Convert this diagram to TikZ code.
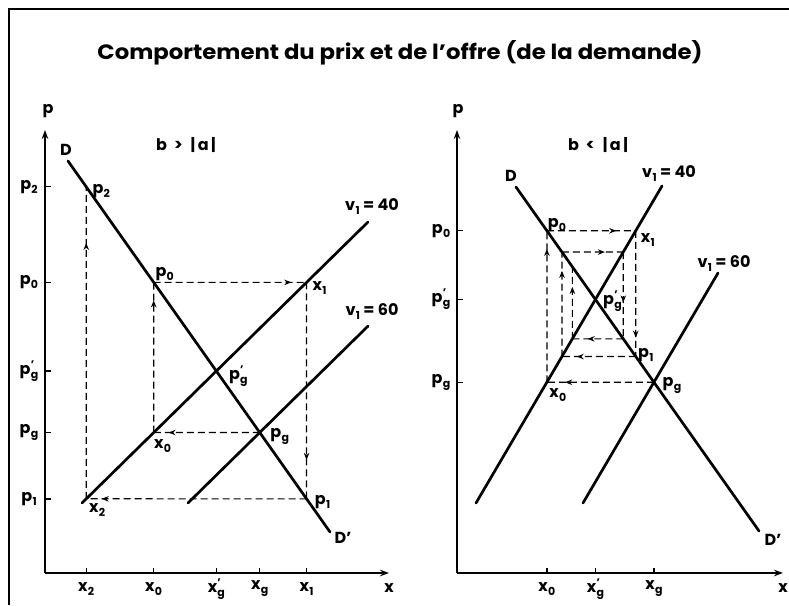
\documentclass[tikz,border=0pt]{standalone}
\usepackage{fontspec}
\usepackage{graphicx}
\setmainfont{Poppins}
\usetikzlibrary{arrows.meta,decorations.markings}
\newcommand\subf{\fontsize{11}{11}\selectfont}
\newcommand\sbs[2]{#1\kern0.3pt\raisebox{-4pt}{\subf #2}}
\newcommand\sbp[2]{#1\kern0.3pt\rlap{\raisebox{6pt}{\subf '}}\raisebox{-4pt}{\subf #2}}
\newcommand\condtxt[1]{b\hspace{7pt}#1\hspace{8pt}|\kern2.5pt a\kern2.5pt|}
\tikzset{
  lbl/.style={font=\fontsize{16}{16}\selectfont\bfseries, inner sep=0pt},
  curve/.style={line width=2.7pt, line cap=round},
  axisline/.style={line width=1.6pt, -{Stealth[length=9pt,width=6.5pt]}},
  tickline/.style={line width=1.3pt},
  cob/.style={line width=1.2pt, dash pattern=on 7pt off 4pt,
    postaction={decorate},
    decoration={markings, mark=at position #1 with {\arrow{Stealth[length=7pt,width=5.5pt]}}}},
  border/.style={line width=1.4pt}
}
\begin{document}
\begin{tikzpicture}[x=1pt,y=-1pt]
\useasboundingbox (0,0) rectangle (789,605);
% frame
\coordinate (F1) at (9,605);
\coordinate (F2) at (9,9);
\coordinate (F3) at (789,9);
\draw[border] (F1) -- (F2) -- (F3);
% title
\node[inner sep=0pt, anchor=base] (title) at (400,59) {\resizebox{605pt}{19pt}{\bfseries Comportement du prix et de l'offre (de la demande)}};

% ================= LEFT CHART =================
\coordinate (LO) at (45,573);
\coordinate (LYt) at (45,130);
\coordinate (LXr) at (389,573);
\coordinate (LDa) at (68,161);  \coordinate (LDb) at (330,532);
\coordinate (LAa) at (82,503);  \coordinate (LAb) at (368,222);
\coordinate (LBa) at (188,503); \coordinate (LBb) at (368,326.1);

\coordinate (Lpg) at (intersection of LDa--LDb and LBa--LBb);
\coordinate (Lpgp) at (intersection of LDa--LDb and LAa--LAb);
\coordinate (LpgH) at (Lpg -| LO);
\coordinate (Lx0) at (intersection of LAa--LAb and Lpg--LpgH);
\coordinate (Lx0V) at (Lx0 |- LO);
\coordinate (Lp0) at (intersection of LDa--LDb and Lx0--Lx0V);
\coordinate (Lp0H) at (Lp0 -| LO);
\coordinate (Lx1) at (intersection of LAa--LAb and Lp0--Lp0H);
\coordinate (Lx1V) at (Lx1 |- LO);
\coordinate (Lp1) at (intersection of LDa--LDb and Lx1--Lx1V);
\coordinate (Lp1H) at (Lp1 -| LO);
\coordinate (Lx2) at (intersection of LAa--LAb and Lp1--Lp1H);
\coordinate (Lx2V) at (Lx2 |- LO);
\coordinate (Lp2) at (intersection of LDa--LDb and Lx2--Lx2V);

% dashed cobweb
\draw[cob=0.86] (Lpg) -- (Lx0);
\draw[cob=0.88] (Lx0) -- (Lp0);
\draw[cob=0.9] (Lp0) -- (Lx1);
\draw[cob=0.82] (Lx1) -- (Lp1);
\draw[cob=0.93] (Lp1) -- (Lx2);
\draw[cob=0.82] (Lx2) -- (Lp2);

% axes
\draw[axisline] (LO) -- (LYt);
\draw[axisline] (LO) -- (LXr);
% curves
\draw[curve] (LDa) -- (LDb);
\draw[curve] (LAa) -- (LAb);
\draw[curve] (LBa) -- (LBb);

% ticks on p axis
\foreach \p in {Lp2,Lp0,Lpgp,Lpg,Lp1} { \draw[tickline] (\p -| LO) -- ++(6,0); }
% ticks on x axis
\foreach \p in {Lx2,Lx0,Lpgp,Lpg,Lx1} { \draw[tickline] (\p |- LO) -- ++(0,-5); }

% tick labels
\node[lbl, xshift=-16pt] (Ltp2) at (Lp2 -| LO) {\sbs{p}{2}};
\node[lbl, xshift=-16pt] (Ltp0) at (Lp0 -| LO) {\sbs{p}{0}};
\node[lbl, xshift=-16pt] (Ltpgp) at (Lpgp -| LO) {\sbp{p}{g}};
\node[lbl, xshift=-16pt] (Ltpg) at (Lpg -| LO) {\sbs{p}{g}};
\node[lbl, xshift=-16pt] (Ltp1) at (Lp1 -| LO) {\sbs{p}{1}};
\node[lbl, yshift=-16pt] (Ltx2) at (Lx2 |- LO) {\sbs{x}{2}};
\node[lbl, yshift=-16pt] (Ltx0) at (Lx0 |- LO) {\sbs{x}{0}};
\node[lbl, yshift=-16pt] (Ltxgp) at (Lpgp |- LO) {\sbp{x}{g}};
\node[lbl, yshift=-16pt] (Ltxg) at (Lpg |- LO) {\sbs{x}{g}};
\node[lbl, yshift=-16pt] (Ltx1) at (Lx1 |- LO) {\sbs{x}{1}};
\node[lbl] (Lp) at (48,111) {p};
\node[lbl] (Lx) at (389,588) {x};

% point labels
\node[lbl, xshift=15pt, yshift=-4pt] (Llp2) at (Lp2) {\sbs{p}{2}};
\node[lbl, xshift=11pt, yshift=8pt] (Llp0) at (Lp0) {\sbs{p}{0}};
\node[lbl, xshift=13pt, yshift=-6pt] (Llx1) at (Lx1) {\sbs{x}{1}};
\node[lbl, xshift=22pt, yshift=-5pt] (Llpgp) at (Lpgp) {\sbp{p}{g}};
\node[lbl, xshift=20pt, yshift=-4pt] (Llpg) at (Lpg) {\sbs{p}{g}};
\node[lbl, xshift=9pt, yshift=-13pt] (Llx0) at (Lx0) {\sbs{x}{0}};
\node[lbl, xshift=16pt, yshift=-3pt] (Llp1) at (Lp1) {\sbs{p}{1}};
\node[lbl, xshift=11pt, yshift=-11pt] (Llx2) at (Lx2) {\sbs{x}{2}};
\node[lbl] (LD) at (66,150) {D};
\node[lbl] (LDp) at (343,538) {D'};
\node[lbl] (Lv40) at (372,207) {\sbs{v}{1} = 40};
\node[lbl] (Lv60) at (372,312) {\sbs{v}{1} = 60};
\node[lbl] (Lcond) at (186,145) {\condtxt{>}};

% ================= RIGHT CHART =================
\coordinate (RO) at (457,573);
\coordinate (RYt) at (457,130);
\coordinate (RXr) at (783,573);
\coordinate (RDa) at (516,187);  \coordinate (RDb) at (759,531);
\coordinate (RAa) at (476,503);  \coordinate (RAb) at (662,186);
\coordinate (RBa) at (583,503);  \coordinate (RBb) at (718,273);

\coordinate (Rpg) at (intersection of RDa--RDb and RBa--RBb);
\coordinate (Rpgp) at (intersection of RDa--RDb and RAa--RAb);
\coordinate (RpgH) at (Rpg -| RO);
\coordinate (Rx0) at (intersection of RAa--RAb and Rpg--RpgH);
\coordinate (Rx0V) at (Rx0 |- RO);
\coordinate (Rp0) at (intersection of RDa--RDb and Rx0--Rx0V);
\coordinate (Rp0H) at (Rp0 -| RO);
\coordinate (Rx1) at (intersection of RAa--RAb and Rp0--Rp0H);
\coordinate (Rx1V) at (Rx1 |- RO);
\coordinate (Rp1) at (intersection of RDa--RDb and Rx1--Rx1V);
\coordinate (Rp1H) at (Rp1 -| RO);
\coordinate (Rx2) at (intersection of RAa--RAb and Rp1--Rp1H);
\coordinate (Rx2V) at (Rx2 |- RO);
\coordinate (Rp2) at (intersection of RDa--RDb and Rx2--Rx2V);
\coordinate (Rp2H) at (Rp2 -| RO);
\coordinate (Rx3) at (intersection of RAa--RAb and Rp2--Rp2H);
\coordinate (Rx3V) at (Rx3 |- RO);
\coordinate (Rp3) at (intersection of RDa--RDb and Rx3--Rx3V);
\coordinate (Rp3H) at (Rp3 -| RO);
\coordinate (Rx4) at (intersection of RAa--RAb and Rp3--Rp3H);
\coordinate (Rx4V) at (Rx4 |- RO);
\coordinate (Rp4) at (intersection of RDa--RDb and Rx4--Rx4V);

\draw[cob=0.83] (Rpg) -- (Rx0);
\draw[cob=0.88] (Rx0) -- (Rp0);
\draw[cob=0.78] (Rp0) -- (Rx1);
\draw[cob=0.85] (Rx1) -- (Rp1);
\draw[cob=0.8] (Rp1) -- (Rx2);
\draw[cob=0.82] (Rx2) -- (Rp2);
\draw[cob=0.7] (Rp2) -- (Rx3);
\draw[cob=0.58] (Rx3) -- (Rp3);
\draw[cob=0.7] (Rp3) -- (Rx4);
\draw[cob=0.72] (Rx4) -- (Rp4);

\draw[axisline] (RO) -- (RYt);
\draw[axisline] (RO) -- (RXr);
\draw[curve] (RDa) -- (RDb);
\draw[curve] (RAa) -- (RAb);
\draw[curve] (RBa) -- (RBb);

\foreach \p in {Rp0,Rpgp,Rpg} { \draw[tickline] (\p -| RO) -- ++(6,0); }
\foreach \p in {Rx0,Rpgp,Rpg} { \draw[tickline] (\p |- RO) -- ++(0,-5); }

\node[lbl, xshift=-16pt] (Rtp0) at (Rp0 -| RO) {\sbs{p}{0}};
\node[lbl, xshift=-16pt] (Rtpgp) at (Rpgp -| RO) {\sbp{p}{g}};
\node[lbl, xshift=-16pt] (Rtpg) at (Rpg -| RO) {\sbs{p}{g}};
\node[lbl, yshift=-16pt] (Rtx0) at (Rx0 |- RO) {\sbs{x}{0}};
\node[lbl, yshift=-16pt] (Rtxgp) at (Rpgp |- RO) {\sbp{x}{g}};
\node[lbl, yshift=-16pt] (Rtxg) at (Rpg |- RO) {\sbs{x}{g}};
\node[lbl] (Rp) at (458,111) {p};
\node[lbl] (Rx) at (783,588) {x};

\node[lbl, xshift=10pt, yshift=6pt] (Rlp0) at (Rp0) {\sbs{p}{0}};
\node[lbl, xshift=12pt, yshift=-9pt] (Rlx1) at (Rx1) {\sbs{x}{1}};
\node[lbl, xshift=17pt, yshift=-2pt] (Rlpgp) at (Rpgp) {\sbp{p}{g}};
\node[lbl, xshift=10pt, yshift=1pt] (Rlp1) at (Rp1) {\sbs{p}{1}};
\node[lbl, xshift=18pt, yshift=-3pt] (Rlpg) at (Rpg) {\sbs{p}{g}};
\node[lbl, xshift=11pt, yshift=-13pt] (Rlx0) at (Rx0) {\sbs{x}{0}};
\node[lbl] (RD) at (511,176) {D};
\node[lbl] (RDp) at (773,540) {D'};
\node[lbl] (Rv40) at (669,174) {\sbs{v}{1} = 40};
\node[lbl] (Rv60) at (724,264) {\sbs{v}{1} = 60};
\node[lbl] (Rcond) at (598,145) {\condtxt{<}};
\end{tikzpicture}
\end{document}
